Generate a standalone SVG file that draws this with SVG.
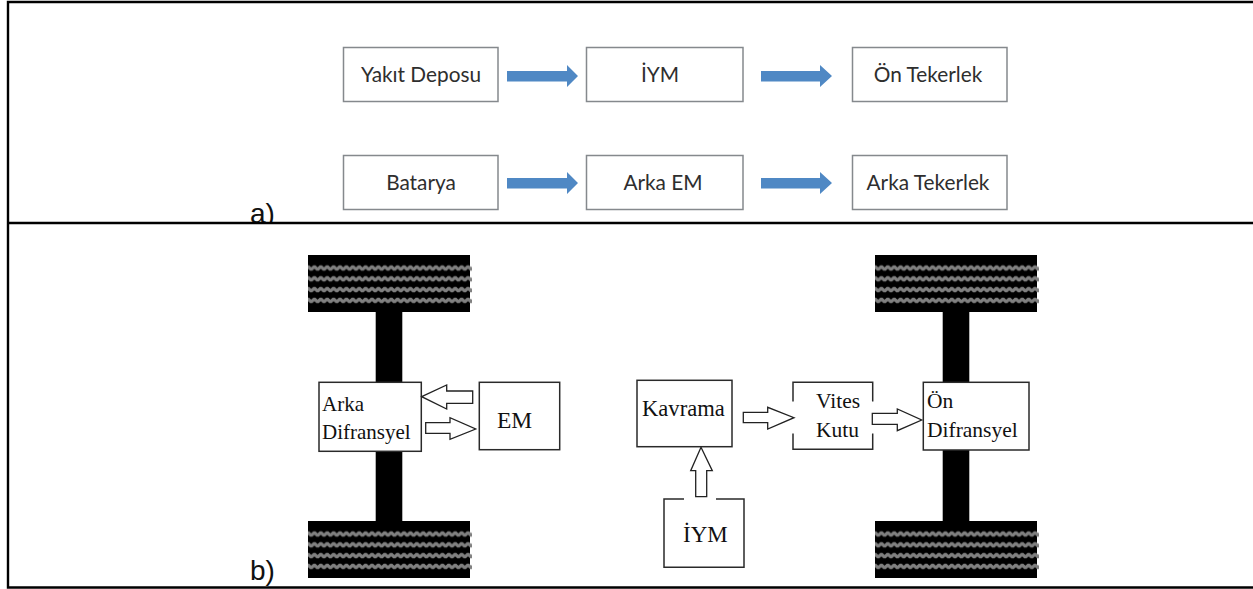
<svg xmlns="http://www.w3.org/2000/svg" xmlns:xlink="http://www.w3.org/1999/xlink" width="1253" height="589" viewBox="0 0 1253 589">
<style>
.frame{fill:none;stroke:#000;stroke-width:2.4}
.lab{font-family:"Liberation Sans",Arial,sans-serif;font-size:28px;fill:#111}
.sb{fill:#fff;stroke:#85898d;stroke-width:1.5}
.st{font-family:Lato,"Noto Sans",sans-serif;font-size:20.8px;fill:#2e2e2e;text-anchor:middle}
.ba{fill:#4f88c4}
.bb{fill:#fff;stroke:#2a2a2a;stroke-width:1.5}
.bl{fill:none;stroke:#2a2a2a;stroke-width:1.5}
.bt{font-family:"Liberation Serif","Times New Roman",serif;font-size:21.5px;fill:#111}
.oa{fill:#fff;stroke:#222;stroke-width:1.3}
.axle{fill:#000}
</style>
<defs>
<pattern id="tread" patternUnits="userSpaceOnUse" x="0" y="-3.2" width="6.4" height="10.8">
<path d="M-3.2 7L0 3.8L3.2 7L6.4 3.8L9.6 7" fill="none" stroke="#808080" stroke-width="3.2" stroke-linejoin="bevel"/>
</pattern>
<g id="wheel">
<rect x="0" y="0" width="162" height="57" fill="#000"/>
<rect x="0" y="7.6" width="164" height="43.2" fill="url(#tread)"/>
</g>
</defs>
<rect width="1253" height="589" fill="#fff"/>
<text class="lab" x="250" y="223">a)</text>
<rect x="240" y="224" width="50" height="8" fill="#fff"/>
<text class="lab" x="250" y="580">b)</text>
<g id="frame">
<path class="frame" d="M1253 2H8V587.5H1253M8 223H1253"/>
</g>

<g id="connectors">
<g id="top-arrows">
<path class="ba" d="M507 71H567V65L578 76L567 87V81.5H507Z"/>
<path class="ba" d="M761 71H820V65L832 76L820 87V81.5H761Z"/>
<path class="ba" d="M507 178H567V172L578 183L567 194V188.5H507Z"/>
<path class="ba" d="M761 178H820V172L832 183L820 194V188.5H761Z"/>
</g>
</g>

<g id="node-yakit"><rect class="sb" x="343.5" y="47.5" width="154.5" height="54"/><text class="st" x="421" y="82">Yakıt Deposu</text></g>
<g id="node-iym-a"><rect class="sb" x="586.5" y="47.5" width="156.5" height="54"/><text class="st" x="660" y="82">İYM</text></g>
<g id="node-on-tekerlek"><rect class="sb" x="852.5" y="47.5" width="154.5" height="54"/><text class="st" x="928" y="82">Ön Tekerlek</text></g>
<g id="node-batarya"><rect class="sb" x="343.5" y="155.5" width="154.5" height="54"/><text class="st" x="421" y="190">Batarya</text></g>
<g id="node-arka-em-a"><rect class="sb" x="586.5" y="155.5" width="156.5" height="54"/><text class="st" x="663" y="190">Arka EM</text></g>
<g id="node-arka-tekerlek"><rect class="sb" x="852.5" y="155.5" width="154.5" height="54"/><text class="st" x="928" y="190">Arka Tekerlek</text></g>

<g id="rear-axle">
<rect class="axle" x="375.7" y="300" width="26.6" height="230"/>
<use xlink:href="#wheel" href="#wheel" transform="translate(308 255)"/>
<use xlink:href="#wheel" href="#wheel" transform="translate(308 521)"/>
</g>
<g id="front-axle">
<rect class="axle" x="942.7" y="300" width="26.6" height="230"/>
<use xlink:href="#wheel" href="#wheel" transform="translate(875 255)"/>
<use xlink:href="#wheel" href="#wheel" transform="translate(875 521)"/>
</g>

<g id="node-arka-dif"><rect class="bb" x="319" y="382.3" width="102.3" height="69"/><text class="bt" x="322" y="411" style="font-size:21px">Arka</text><text class="bt" x="322" y="439" style="font-size:21px">Difransyel</text></g>
<g id="node-em"><rect class="bb" x="479.3" y="382.3" width="80.4" height="67.4"/><text class="bt" x="497" y="428" style="font-size:23.5px">EM</text></g>
<g id="node-kavrama"><rect class="bb" x="637" y="380.3" width="95" height="66.4"/><text class="bt" x="642" y="416" style="font-size:22.6px">Kavrama</text></g>
<g id="node-vites"><path class="bl" d="M793 401.5V382.3H872.7V401.5M793 433.5V449.3H872.7V433.5"/><text class="bt" x="816" y="408">Vites</text><text class="bt" x="816" y="437">Kutu</text></g>
<g id="node-on-dif"><rect class="bb" x="923.3" y="382.3" width="105.7" height="67.7"/><text class="bt" x="927" y="408">Ön</text><text class="bt" x="927" y="437">Difransyel</text></g>
<g id="node-iym-b"><path class="bl" d="M684 499H664V567.3H744V499H716"/><text class="bt" x="683" y="542" style="font-size:23px">İYM</text></g>

<g id="block-arrows">
<path class="oa" d="M421.7 396.7L446.7 385V391H472.7V403.3H446.7V409Z"/>
<path class="oa" d="M425.7 422.7H450V417.7L475.7 429L450 439.3V433.3H425.7Z"/>
<path class="oa" d="M743.3 412.3H767.7V407.3L794 417.7L767.7 429V422.7H743.3Z"/>
<path class="oa" d="M872.3 413.3H897.3V409L921.7 420L897.3 430.7V424.3H872.3Z"/>
<path class="oa" d="M701 447.3L712.3 470.7H706.7V496.7H695.7V470.7H690.7Z"/>
</g>
</svg>
